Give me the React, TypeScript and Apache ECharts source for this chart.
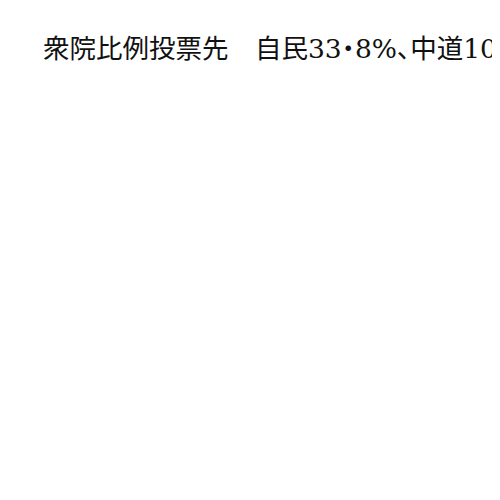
import React, { useEffect, useRef } from "react";
import * as echarts from "echarts";

const titleParts: string[] = ["衆院比例投票先", "自民33・8%、中道10"];
const categories: string[] = [];
const values: number[] = [];

export default function App() {
  const ref = useRef<HTMLDivElement | null>(null);
  useEffect(() => {
    if (!ref.current) return;
    const chart = echarts.init(ref.current, null, { renderer: "svg" });
    chart.setOption({
      animation: false,
      backgroundColor: "#ffffff",
      title: {
        text: titleParts.join("　"),
        left: 30,
        top: 22,
        textStyle: {
          fontFamily: "'DejaVu Serif', 'Noto Sans CJK JP', serif",
          fontSize: 26.5,
          fontWeight: "normal",
          color: "#111111",
        },
      },
      xAxis: { type: "category", data: categories, show: false },
      yAxis: { type: "value", show: false },
      series: [{ type: "bar", data: values }],
    });
    return () => chart.dispose();
  }, []);
  return (
    <>
      <style>{`.chart-root text { font-feature-settings: "palt" 1 !important; font-kerning: normal; }`}</style>
      <div className="chart-root" ref={ref} style={{ width: 492, height: 484 }} />
    </>
  );
}
